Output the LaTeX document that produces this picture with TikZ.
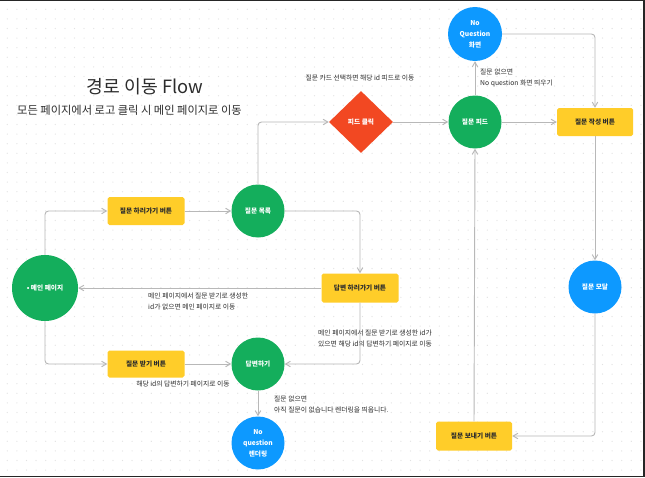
\documentclass[tikz,border=0pt]{standalone}
\usepackage{fontspec}
\setmainfont{Noto Sans CJK KR}
\usepackage{xcolor}
\usepackage{tikz}
\usetikzlibrary{shapes.geometric, arrows, positioning}

\definecolor{pagegreen}{HTML}{14AE5C}
\definecolor{emptyblue}{HTML}{0D99FF}
\definecolor{btnyellow}{HTML}{FFCD29}
\definecolor{clickred}{HTML}{F24822}
\definecolor{linegray}{HTML}{B8B8B8}
\definecolor{dotgray}{HTML}{E2E2E2}
\definecolor{notegray}{HTML}{2C2C2C}

\begin{document}
\begin{tikzpicture}[
    x=0.03cm, y=-0.03cm,
    page/.style={circle, fill=pagegreen, text=white, minimum size=53*0.03cm, inner sep=0pt, align=center,
                 font=\fontsize{5.7pt}{9.4pt}\selectfont\bfseries},
    blank/.style={page, fill=emptyblue},
    button/.style={rectangle, rounded corners=1.5pt, fill=btnyellow, text=notegray, minimum width=77*0.03cm,
                   minimum height=28*0.03cm, inner sep=0pt, font=\fontsize{5.7pt}{9.4pt}\selectfont\bfseries},
    event/.style={diamond, fill=clickred, text=white, minimum width=64*0.03cm, minimum height=62*0.03cm,
                  inner sep=0pt, font=\fontsize{5.7pt}{9.4pt}\selectfont\bfseries},
    note/.style={text=notegray, inner sep=0pt, align=left, font=\fontsize{5.8pt}{9.4pt}\selectfont},
    arrow/.style={draw=linegray, line width=0.8pt, ->, >=angle 60, rounded corners=3pt}
]
\useasboundingbox (0,0) rectangle (645,478);
\fill[white] (0,0) rectangle (645,478);

% dotted canvas
\foreach \i in {0,...,66}
  \foreach \j in {0,...,49}
    \fill[dotgray] (7.3+9.6*\i, 9.3+9.6*\j) circle (0.55pt);

% frame
\draw[black!85, line width=1.4pt] (0,0.5) -- (643.8,0.5) -- (643.8,476.6) -- (0,476.6);

% title
\node[inner sep=0pt, text=notegray, font=\fontsize{15.6pt}{18pt}\selectfont] (title) at (145,87) {경로 이동 Flow};
\node[inner sep=0pt, text=notegray, font=\fontsize{9.6pt}{11pt}\selectfont] (subtitle) at (129.5,110)
    {모든 페이지에서 로고 클릭 시 메인 페이지로 이동};

% pages
\node[page, minimum size=66*0.03cm] (main) at (45,288) {• 메인 페이지};
\node[page] (list) at (258,211) {질문 목록};
\node[page] (answer) at (258,364) {답변하기};
\node[blank] (noanswer) at (258,443) {No\\question\\렌더링};
\node[page] (feed) at (475,122) {질문 피드};
\node[blank, minimum size=54*0.03cm] (nofeed) at (475,34) {No\\Question\\화면};
\node[blank] (modal) at (595,287) {질문 모달};

% buttons
\node[button] (askbtn) at (146,211) {질문 하러가기 버튼};
\node[button, minimum height=29*0.03cm] (answerbtn) at (360,288) {답변 하러가기 버튼};
\node[button, minimum height=27*0.03cm] (receivebtn) at (146,364) {질문 받기 버튼};
\node[button, minimum width=76*0.03cm] (writebtn) at (595,122) {질문 작성 버튼};
\node[button, minimum width=76*0.03cm, minimum height=29*0.03cm] (sendbtn) at (474,436) {질문 보내기 버튼};
\node[event] (click) at (361,122) {피드 클릭};

% notes
\node[note] (clicknote) at (360,78) {질문 카드 선택하면 해당 id 피드로 이동};
\node[note, anchor=west] (nofeednote) at (480,78) {질문 없으면\\No question 화면 띄우기};
\node[note, anchor=west] (backnote) at (148,301.5) {메인 페이지에서 질문 받기로 생성한\\id가 없으면 메인 페이지로 이동};
\node[note, anchor=west] (gonote) at (318,338.5) {메인 페이지에서 질문 받기로 생성한 id가\\있으면 해당 id의 답변하기 페이지로 이동};
\node[note] (receivenote) at (183,384) {해당 id의 답변하기 페이지로 이동};
\node[note, anchor=west] (noanswernote) at (274,404) {질문 없으면\\아직 질문이 없습니다 렌더링을 띄웁니다.};

% flow
\draw[arrow] (main.north) |- (askbtn.west);
\draw[arrow] (askbtn) -- (list);
\draw[arrow] (list.north) |- (click.west);
\draw[arrow] (list.east) -| (answerbtn.north);
\draw[arrow] (answerbtn.west) -- (main.east);
\draw[arrow] (main.south) |- (receivebtn.west);
\draw[arrow] (receivebtn) -- (answer);
\draw[arrow] (answerbtn.south) |- (answer.east);
\draw[arrow] (answer) -- (noanswer);
\draw[arrow] (click) -- (feed);
\draw[arrow] (feed) -- (nofeed);
\draw[arrow] (nofeed.east) -| (writebtn.north);
\draw[arrow] (feed) -- (writebtn);
\draw[arrow] (writebtn) -- (modal);
\draw[arrow] (modal.south) |- (sendbtn.east);
\draw[arrow] (sendbtn.north) -- (feed.south);
\end{tikzpicture}
\end{document}
